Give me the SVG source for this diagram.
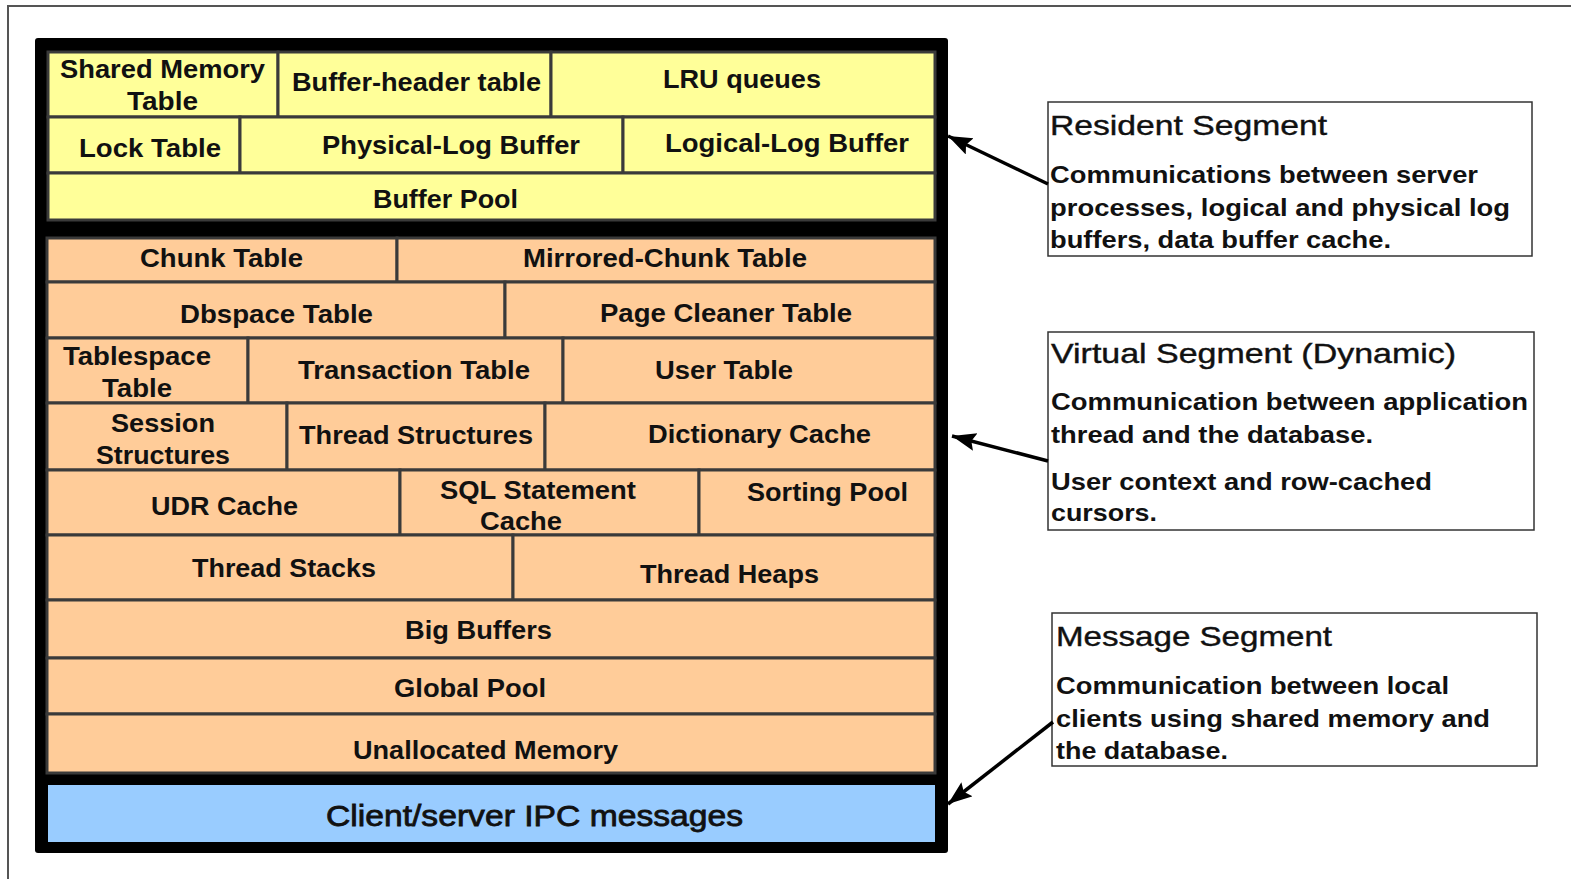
<svg xmlns="http://www.w3.org/2000/svg" width="1571" height="879" viewBox="0 0 1571 879">
<style>
  .cell text { font-family: "Liberation Sans", Arial, sans-serif; font-weight: bold; font-size: 26px; fill: #111; }
  .y rect { fill: #FFFF99; stroke: #3a3a3a; stroke-width: 3; }
  .o rect { fill: #FFCC99; stroke: #3a3a3a; stroke-width: 3; }
  .b rect { fill: #99CCFF; }
  .b text { font-family: "Liberation Sans", Arial, sans-serif; font-size: 30px; fill: #111; stroke: #111; stroke-width: 0.8; }
  .note rect { fill: #fff; stroke: #333; stroke-width: 1.5; }
  .note .t { font-family: "Liberation Sans", Arial, sans-serif; font-size: 28px; fill: #111; stroke: #111; stroke-width: 0.4; }
  .note .d { font-family: "Liberation Sans", Arial, sans-serif; font-weight: bold; font-size: 24px; fill: #111; }
  .conn line { stroke: #000; stroke-width: 3.5; marker-end: url(#ah); }
</style>
<defs>
  <marker id="ah" markerUnits="userSpaceOnUse" markerWidth="26" markerHeight="20" refX="24" refY="9" orient="auto">
    <path d="M0,0 L24,9 L0,18 L4,9 z" fill="#000"/>
  </marker>
</defs>
<rect width="1571" height="879" fill="#fff"/>
<path d="M1571,6 H8 V879" fill="none" stroke="#555" stroke-width="2"/>

<g id="memory-frame">
  <rect x="35" y="38" width="913" height="815" rx="3" fill="#000"/>
</g>

<!-- Resident segment (yellow) -->
<g id="shared-memory-table" class="cell y"><rect x="48" y="52" width="230" height="65"/><text x="60" y="78" textLength="205" lengthAdjust="spacingAndGlyphs">Shared Memory</text><text x="127" y="110" textLength="71" lengthAdjust="spacingAndGlyphs">Table</text></g>
<g id="buffer-header-table" class="cell y"><rect x="278" y="52" width="273" height="65"/><text x="292" y="91" textLength="249" lengthAdjust="spacingAndGlyphs">Buffer-header table</text></g>
<g id="lru-queues" class="cell y"><rect x="551" y="52" width="384" height="65"/><text x="663" y="88" textLength="158" lengthAdjust="spacingAndGlyphs">LRU queues</text></g>
<g id="lock-table" class="cell y"><rect x="48" y="117" width="192" height="56"/><text x="79" y="157" textLength="142" lengthAdjust="spacingAndGlyphs">Lock Table</text></g>
<g id="physical-log-buffer" class="cell y"><rect x="240" y="117" width="383" height="56"/><text x="322" y="154" textLength="258" lengthAdjust="spacingAndGlyphs">Physical-Log Buffer</text></g>
<g id="logical-log-buffer" class="cell y"><rect x="623" y="117" width="312" height="56"/><text x="665" y="152" textLength="244" lengthAdjust="spacingAndGlyphs">Logical-Log Buffer</text></g>
<g id="buffer-pool" class="cell y"><rect x="48" y="173" width="887" height="47"/><text x="373" y="208" textLength="145" lengthAdjust="spacingAndGlyphs">Buffer Pool</text></g>

<!-- Virtual segment (orange) -->
<g id="chunk-table" class="cell o"><rect x="47" y="238" width="350" height="44"/><text x="140" y="267" textLength="163" lengthAdjust="spacingAndGlyphs">Chunk Table</text></g>
<g id="mirrored-chunk-table" class="cell o"><rect x="397" y="238" width="538" height="44"/><text x="523" y="267" textLength="284" lengthAdjust="spacingAndGlyphs">Mirrored-Chunk Table</text></g>
<g id="dbspace-table" class="cell o"><rect x="47" y="282" width="458" height="56"/><text x="180" y="323" textLength="193" lengthAdjust="spacingAndGlyphs">Dbspace Table</text></g>
<g id="page-cleaner-table" class="cell o"><rect x="505" y="282" width="430" height="56"/><text x="600" y="322" textLength="252" lengthAdjust="spacingAndGlyphs">Page Cleaner Table</text></g>
<g id="tablespace-table" class="cell o"><rect x="47" y="338" width="201" height="65"/><text x="63" y="365" textLength="148" lengthAdjust="spacingAndGlyphs">Tablespace</text><text x="102" y="397" textLength="70" lengthAdjust="spacingAndGlyphs">Table</text></g>
<g id="transaction-table" class="cell o"><rect x="248" y="338" width="315" height="65"/><text x="298" y="379" textLength="232" lengthAdjust="spacingAndGlyphs">Transaction Table</text></g>
<g id="user-table" class="cell o"><rect x="563" y="338" width="372" height="65"/><text x="655" y="379" textLength="138" lengthAdjust="spacingAndGlyphs">User Table</text></g>
<g id="session-structures" class="cell o"><rect x="47" y="403" width="240" height="67"/><text x="111" y="432" textLength="104" lengthAdjust="spacingAndGlyphs">Session</text><text x="96" y="464" textLength="134" lengthAdjust="spacingAndGlyphs">Structures</text></g>
<g id="thread-structures" class="cell o"><rect x="287" y="403" width="258" height="67"/><text x="299" y="444" textLength="234" lengthAdjust="spacingAndGlyphs">Thread Structures</text></g>
<g id="dictionary-cache" class="cell o"><rect x="545" y="403" width="390" height="67"/><text x="648" y="443" textLength="223" lengthAdjust="spacingAndGlyphs">Dictionary Cache</text></g>
<g id="udr-cache" class="cell o"><rect x="47" y="470" width="353" height="65"/><text x="151" y="515" textLength="147" lengthAdjust="spacingAndGlyphs">UDR Cache</text></g>
<g id="sql-statement-cache" class="cell o"><rect x="400" y="470" width="299" height="65"/><text x="440" y="499" textLength="196" lengthAdjust="spacingAndGlyphs">SQL Statement</text><text x="480" y="530" textLength="82" lengthAdjust="spacingAndGlyphs">Cache</text></g>
<g id="sorting-pool" class="cell o"><rect x="699" y="470" width="236" height="65"/><text x="747" y="501" textLength="161" lengthAdjust="spacingAndGlyphs">Sorting Pool</text></g>
<g id="thread-stacks" class="cell o"><rect x="47" y="535" width="466" height="65"/><text x="192" y="577" textLength="184" lengthAdjust="spacingAndGlyphs">Thread Stacks</text></g>
<g id="thread-heaps" class="cell o"><rect x="513" y="535" width="422" height="65"/><text x="640" y="583" textLength="179" lengthAdjust="spacingAndGlyphs">Thread Heaps</text></g>
<g id="big-buffers" class="cell o"><rect x="47" y="600" width="888" height="58"/><text x="405" y="639" textLength="147" lengthAdjust="spacingAndGlyphs">Big Buffers</text></g>
<g id="global-pool" class="cell o"><rect x="47" y="658" width="888" height="56"/><text x="394" y="697" textLength="152" lengthAdjust="spacingAndGlyphs">Global Pool</text></g>
<g id="unallocated-memory" class="cell o"><rect x="47" y="714" width="888" height="59"/><text x="353" y="759" textLength="265" lengthAdjust="spacingAndGlyphs">Unallocated Memory</text></g>

<!-- Message segment (blue) -->
<g id="client-server-ipc" class="b"><rect x="48" y="785" width="887" height="57"/><text x="326" y="826" textLength="417" lengthAdjust="spacingAndGlyphs">Client/server IPC messages</text></g>

<!-- Notes -->
<g id="resident-segment" class="note">
  <rect x="1048" y="102" width="484" height="154"/>
  <text class="t" x="1050" y="135" textLength="277" lengthAdjust="spacingAndGlyphs">Resident Segment</text>
  <text class="d" x="1050" y="183" textLength="428" lengthAdjust="spacingAndGlyphs">Communications between server</text>
  <text class="d" x="1050" y="216" textLength="460" lengthAdjust="spacingAndGlyphs">processes, logical and physical log</text>
  <text class="d" x="1050" y="248" textLength="341" lengthAdjust="spacingAndGlyphs">buffers, data buffer cache.</text>
</g>
<g id="virtual-segment" class="note">
  <rect x="1048" y="332" width="486" height="198"/>
  <text class="t" x="1051" y="363" textLength="405" lengthAdjust="spacingAndGlyphs">Virtual Segment (Dynamic)</text>
  <text class="d" x="1051" y="410" textLength="477" lengthAdjust="spacingAndGlyphs">Communication between application</text>
  <text class="d" x="1051" y="443" textLength="322" lengthAdjust="spacingAndGlyphs">thread and the database.</text>
  <text class="d" x="1051" y="490" textLength="381" lengthAdjust="spacingAndGlyphs">User context and row-cached</text>
  <text class="d" x="1051" y="521" textLength="106" lengthAdjust="spacingAndGlyphs">cursors.</text>
</g>
<g id="message-segment" class="note">
  <rect x="1052" y="613" width="485" height="153"/>
  <text class="t" x="1056" y="646" textLength="276" lengthAdjust="spacingAndGlyphs">Message Segment</text>
  <text class="d" x="1056" y="694" textLength="393" lengthAdjust="spacingAndGlyphs">Communication between local</text>
  <text class="d" x="1056" y="727" textLength="434" lengthAdjust="spacingAndGlyphs">clients using shared memory and</text>
  <text class="d" x="1056" y="759" textLength="172" lengthAdjust="spacingAndGlyphs">the database.</text>
</g>

<g id="connectors" class="conn">
  <line x1="1048" y1="184" x2="948" y2="136"/>
  <line x1="1048" y1="461" x2="952" y2="436"/>
  <line x1="1053" y1="722" x2="948" y2="804"/>
</g>
</svg>
